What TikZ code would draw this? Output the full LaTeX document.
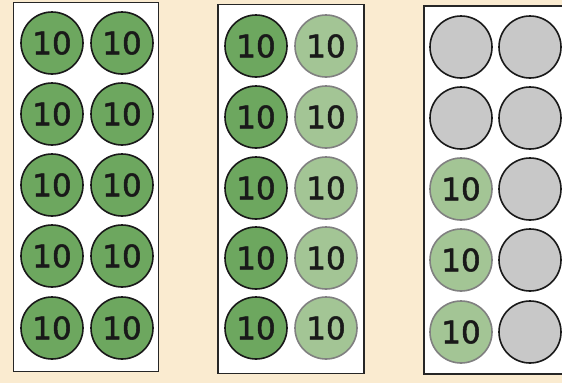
\documentclass[tikz,border=0pt]{standalone}
\usepackage{fontspec}
\setmainfont{DejaVu Sans}
\newfontfamily\numfont[FakeBold=1.6]{DejaVu Sans}
\definecolor{bg}{HTML}{FAEBD0}
\definecolor{dkg}{HTML}{6DA75F}
\definecolor{ltg}{HTML}{A3C595}
\definecolor{gry}{HTML}{C8C8C8}
\begin{document}
\begin{tikzpicture}[x=1pt,y=-1pt,
  panel/.style={draw=black!85,line width=1.8pt,fill=white},
  disc/.style={circle,line width=1.6pt,minimum size=62pt,inner sep=0pt,font=\numfont\fontsize{31}{31}\selectfont,text=black!90},
  full/.style={disc,draw=black!90,fill=dkg},
  half/.style={disc,draw=black!50,fill=ltg},
  empty/.style={disc,draw=black!90,fill=gry}]
\path[fill=bg] (0,0) rectangle (562,383);
\useasboundingbox (0,0) rectangle (562,383);
\clip (0,0) rectangle (562,383);
\node[panel,minimum width=145pt,minimum height=369pt,inner sep=0pt] (p1) at (86,187) {};
\node[panel,minimum width=146pt,minimum height=369pt,inner sep=0pt] (p2) at (291,189) {};
\node[panel,minimum width=160pt,minimum height=368pt,inner sep=0pt] (p3) at (504,190) {};
% panel 1
\foreach \i/\y in {1/43,2/114,3/185,4/256,5/328}{
  \node[full] (a\i) at (52,\y) {10};
  \node[full] (b\i) at (122,\y) {10};
}
% panel 2
\foreach \i/\y in {1/46,2/117,3/188,4/258,5/328}{
  \node[full] (c\i) at (256,\y) {10};
  \node[half] (d\i) at (326,\y) {10};
}
% panel 3
\foreach \i/\y in {1/47,2/118,3/189,4/260,5/332}{
  \node[empty] (f\i) at (530,\y) {};
}
\node[empty] (e1) at (461,47) {};
\node[empty] (e2) at (461,118) {};
\node[half] (e3) at (461,189) {10};
\node[half] (e4) at (461,260) {10};
\node[half] (e5) at (461,332) {10};
\end{tikzpicture}
\end{document}
